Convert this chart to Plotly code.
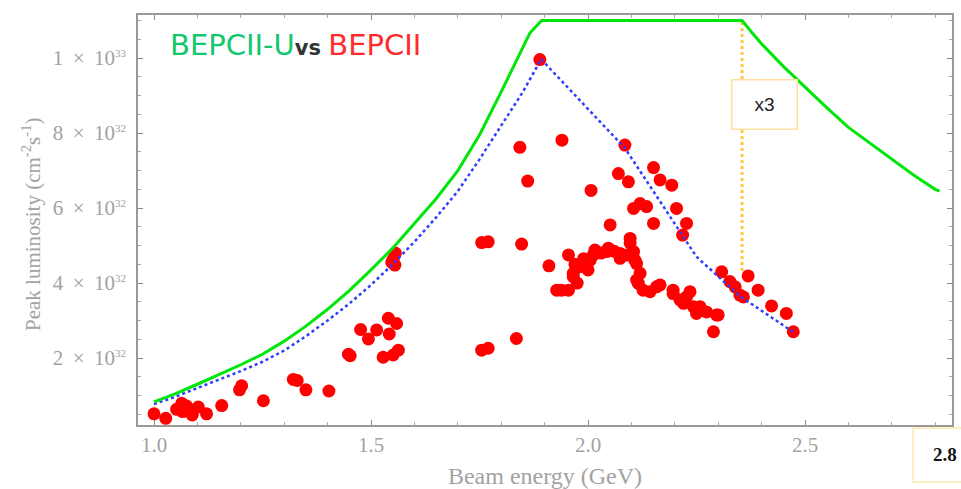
import plotly.graph_objects as go

# Luminosity values in units of 1e32 cm^-2 s^-1
green_x = [1.0, 1.05, 1.1, 1.15, 1.2, 1.25, 1.3, 1.35, 1.4, 1.45, 1.5, 1.55, 1.6, 1.65, 1.7, 1.75,
           1.8, 1.85, 1.866, 1.893, 2.355, 2.38, 2.4, 2.45, 2.5, 2.55, 2.6, 2.65, 2.7, 2.75, 2.8, 2.81]
green_y = [0.83, 1.05, 1.3, 1.55, 1.82, 2.1, 2.45, 2.85, 3.3, 3.8, 4.35, 4.93, 5.6, 6.25, 7.0, 7.95,
           9.1, 10.3, 10.67, 11.0, 11.0, 10.65, 10.38, 9.78, 9.22, 8.68, 8.15, 7.72, 7.3, 6.88, 6.5, 6.45]

blue_x = [1.0, 1.05, 1.1, 1.15, 1.2, 1.25, 1.3, 1.35, 1.4, 1.45, 1.5, 1.55, 1.6, 1.65, 1.7, 1.75,
          1.8, 1.85, 1.892, 2.085, 2.25, 2.35, 2.472]
blue_y = [0.77, 0.97, 1.2, 1.42, 1.65, 1.9, 2.2, 2.58, 3.0, 3.45, 3.95, 4.5, 5.1, 5.75, 6.45, 7.3,
          8.2, 9.1, 9.97, 7.6, 4.7, 3.65, 2.7]

red_x = [1.000, 1.027, 1.052, 1.064, 1.066, 1.075, 1.088, 1.102, 1.121, 1.156, 1.197, 1.202, 1.252,
         1.321, 1.330, 1.350, 1.403, 1.452, 1.448, 1.476, 1.494, 1.513, 1.528, 1.540, 1.542, 1.551,
         1.559, 1.563, 1.551, 1.555, 1.556, 1.548,
         1.755, 1.770, 1.835, 1.755, 1.770, 1.847, 1.843, 1.861, 1.889, 1.940, 1.910, 1.928, 1.939,
         1.955, 1.955, 1.966, 1.966, 1.982, 1.982, 2.005, 2.012, 2.016, 2.030, 2.043, 2.047, 2.060,
         2.074, 2.074, 2.090, 2.097, 2.105, 2.108, 2.112, 2.120, 2.116, 2.112, 2.127, 2.143, 2.158,
         2.166, 2.196, 2.196, 2.212, 2.220, 2.227, 2.235, 2.243, 2.258, 2.273, 2.296, 2.300, 2.289,
         2.250, 1.970, 1.990, 2.000, 1.975,
         2.007, 2.051, 2.070, 2.093, 2.085, 2.097, 2.105, 2.120, 2.135, 2.151, 2.166, 2.193, 2.151,
         2.204, 2.227, 2.218,
         2.308, 2.327, 2.339, 2.350, 2.358, 2.369, 2.392, 2.423, 2.457, 2.473]
red_y = [0.51, 0.39, 0.63, 0.79, 0.57, 0.72, 0.48, 0.69, 0.51, 0.73, 1.15, 1.26, 0.86,
         1.43, 1.40, 1.15, 1.12, 2.06, 2.10, 2.76, 2.51, 2.75, 2.02, 3.06, 2.64, 2.08,
         2.92, 2.21, 4.63, 4.48, 4.80, 4.55,
         2.21, 2.26, 2.52, 5.08, 5.10, 5.04, 7.62, 6.72, 9.96, 7.81, 4.46, 3.81, 3.81,
         3.81, 4.75, 4.17, 4.26, 4.44, 4.48, 4.61, 4.75, 4.88, 4.80, 4.84, 4.93, 4.85,
         4.79, 4.66, 4.75, 5.07, 4.84, 4.61, 4.52, 4.26, 3.99, 4.08, 3.81, 3.77, 3.90,
         3.95, 3.81, 3.72, 3.55, 3.46, 3.63, 3.77, 3.37, 3.37, 3.23, 3.15, 3.15, 2.70,
         3.19, 4.50, 4.65, 4.35, 4.00,
         6.47, 5.55, 6.92, 6.70, 7.68, 5.19, 5.99, 6.12, 6.04, 7.08, 6.75, 6.61, 5.59,
         5.99, 5.59, 5.28,
         4.30, 4.04, 3.90, 3.68, 3.63, 4.19, 3.81, 3.39, 3.19, 2.70]

marker_x = [2.355, 2.355]
marker_y = [4.32, 11.0]

sup = "<sup><span style='font-size:11px'>{}</span></sup>"
y_tickvals = [2, 4, 6, 8, 10]
y_ticktext = ["2 \u2009×\u2009 10" + sup.format(32), "4 \u2009×\u2009 10" + sup.format(32),
              "6 \u2009×\u2009 10" + sup.format(32), "8 \u2009×\u2009 10" + sup.format(32),
              "1 \u2009×\u2009 10" + sup.format(33)]
x_tickvals = [1.0, 1.5, 2.0, 2.5]
x_ticktext = ["1.0", "1.5", "2.0", "2.5"]

fig = go.Figure()
fig.add_trace(go.Scatter(x=red_x, y=red_y, mode="markers",
                         marker=dict(color="#ff0000", size=13, line=dict(width=0)),
                         showlegend=False))
fig.add_trace(go.Scatter(x=marker_x, y=marker_y, mode="lines",
                         line=dict(color="#ffc640", width=3, dash="dot"), showlegend=False))
fig.add_trace(go.Scatter(x=blue_x, y=blue_y, mode="lines",
                         line=dict(color="#2f3cff", width=2.5, dash="dot"), showlegend=False))
fig.add_trace(go.Scatter(x=green_x, y=green_y, mode="lines",
                         line=dict(color="#00e60a", width=3), showlegend=False))

gray = "#a2a2a2"
fig.update_xaxes(range=[0.9631, 2.8387], tickvals=x_tickvals, ticktext=x_ticktext,
                 ticks="inside", ticklen=5, tickcolor="#888", showline=True, linecolor="#999",
                 linewidth=1.5, mirror="ticks", showgrid=False, zeroline=False, automargin=False,
                 tickfont=dict(family="Liberation Serif", size=21, color=gray),
                 minor=dict(dtick=0.1, tick0=1.0, ticks="inside", ticklen=3, tickcolor="#aaa"),
                 title=dict(text="Beam energy (GeV)", standoff=19,
                            font=dict(family="Liberation Serif", size=24, color=gray)))
fig.update_yaxes(range=[0.213, 11.15], tickvals=y_tickvals, ticktext=y_ticktext,
                 ticks="inside", ticklen=5, tickcolor="#888", showline=True, linecolor="#999",
                 linewidth=1.5, mirror="ticks", showgrid=False, zeroline=False, automargin=False,
                 ticklabelstandoff=6,
                 tickfont=dict(family="Liberation Serif", size=21, color=gray),
                 minor=dict(dtick=0.5, tick0=0, ticks="inside", ticklen=3, tickcolor="#aaa"))

fig.add_annotation(xref="paper", yref="paper", x=(31 - 138) / 814, y=(425 - 224) / 410,
                   xanchor="center", yanchor="middle", showarrow=False, textangle=-90,
                   text="Peak luminosity (cm<sup>-2</sup>s<sup>-1</sup>)",
                   font=dict(family="Liberation Serif", size=21, color=gray))

fig.add_annotation(xref="paper", yref="paper", x=(168 - 138) / 814, y=(425 - 45) / 410,
                   xanchor="left", yanchor="middle", showarrow=False,
                   text="<span style='color:#12c86e'>BEPCII-U</span>"
                        "<span style='color:#333;font-size:21px'><b>vs </b></span>"
                        "<span style='color:#ff2b2b'>BEPCII</span>",
                   font=dict(family="DejaVu Sans", size=29))

fig.add_annotation(xref="x", yref="y", x=2.406, y=8.75, showarrow=False, text="x3",
                   font=dict(family="Liberation Sans", size=19, color="#222"),
                   bgcolor="white", bordercolor="#ffe0a0", borderwidth=1.5,
                   width=62, height=46)

# box in the bottom-right corner, partly outside the page
fig.add_shape(type="rect", xref="paper", yref="paper",
              x0=(913 - 138) / 814, x1=(985 - 138) / 814,
              y0=(425 - 482) / 410, y1=(425 - 428) / 410,
              line=dict(color="#ffe8b0", width=1.5), fillcolor="white", layer="above")
fig.add_annotation(xref="paper", yref="paper", x=(931 - 138) / 814, y=(425 - 454) / 410,
                   xanchor="left", yanchor="middle", showarrow=False,
                   text="<b>2.8</b>",
                   font=dict(family="Liberation Serif", size=19, color="#111"))

fig.update_layout(width=961, height=489, margin=dict(l=138, r=9, t=15, b=64),
                  plot_bgcolor="white", paper_bgcolor="white")

fig.write_html("out.html", config={"displayModeBar": False},
               post_script="document.body.style.margin='0';")
